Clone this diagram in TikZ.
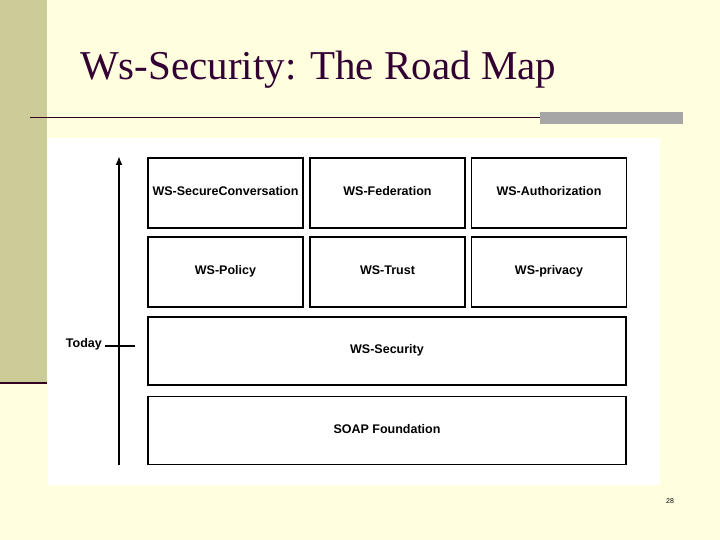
\documentclass[tikz,border=0pt]{standalone}
\usepackage{fontspec}
\usetikzlibrary{arrows.meta}
\setmainfont{Liberation Serif}
\newfontfamily\boxfont{Liberation Sans}
\definecolor{slidebg}{HTML}{FFFFE0}
\definecolor{bandcol}{HTML}{CCCC99}
\definecolor{titlecol}{HTML}{330033}
\definecolor{rulecol}{HTML}{330022}
\tikzset{
  layer/.style={draw,line width=1.8pt,inner sep=0pt,text height=1.5ex,text depth=0.3ex,
    font=\boxfont\bfseries\fontsize{12.5}{14}\selectfont},
  cell/.style={layer,minimum width=155pt,minimum height=70pt},
  wide/.style={layer,minimum width=478pt,minimum height=68pt}
}
\begin{document}
\begin{tikzpicture}[x=1pt,y=-1pt]
\useasboundingbox (0,0) rectangle (720,540);
\fill[slidebg] (0,0) rectangle (720,540);
\fill[bandcol] (0,0) rectangle (47,383);
\draw[rulecol,line width=2.5pt] (0,383) -- (47,383);
\node[anchor=west,text=titlecol,inner sep=0pt,font=\fontsize{41}{46}\selectfont] (Title) at (80,70) {Ws-Security: The Road Map};
\draw[rulecol,line width=1pt] (30,118) -- (540,118);
\fill[gray!70] (540,112) rectangle (683,124);
\fill[white] (48,138) rectangle (660,485);
% rows
\node[cell] (SecConv) at (225.5,193) {WS-SecureConversation};
\node[cell] (Federation) at (387.5,193) {WS-Federation};
\node[cell] (Authorization) at (549,193) {WS-Authorization};
\node[cell] (Policy) at (225.5,272) {WS-Policy};
\node[cell] (Trust) at (387.5,272) {WS-Trust};
\node[cell] (Privacy) at (549,272) {WS-privacy};
\node[wide] (Security) at (387,351) {WS-Security};
\node[wide] (SOAP) at (387,430.5) {SOAP Foundation};
% time axis
\coordinate (AxisBot) at (119,465);
\coordinate (AxisTop) at (119,156);
\draw[line width=1.8pt,-{Latex[length=9pt,width=7pt]}] (AxisBot) -- (AxisTop);
\draw[line width=1.8pt] (105,346) -- (135,346);
\node[anchor=east,inner sep=0pt,font=\boxfont\bfseries\fontsize{12.5}{14}\selectfont] (Today) at (102,344) {Today};
\node[font=\boxfont\fontsize{7}{8}\selectfont] (Page) at (670,501) {28};
\end{tikzpicture}
\end{document}
